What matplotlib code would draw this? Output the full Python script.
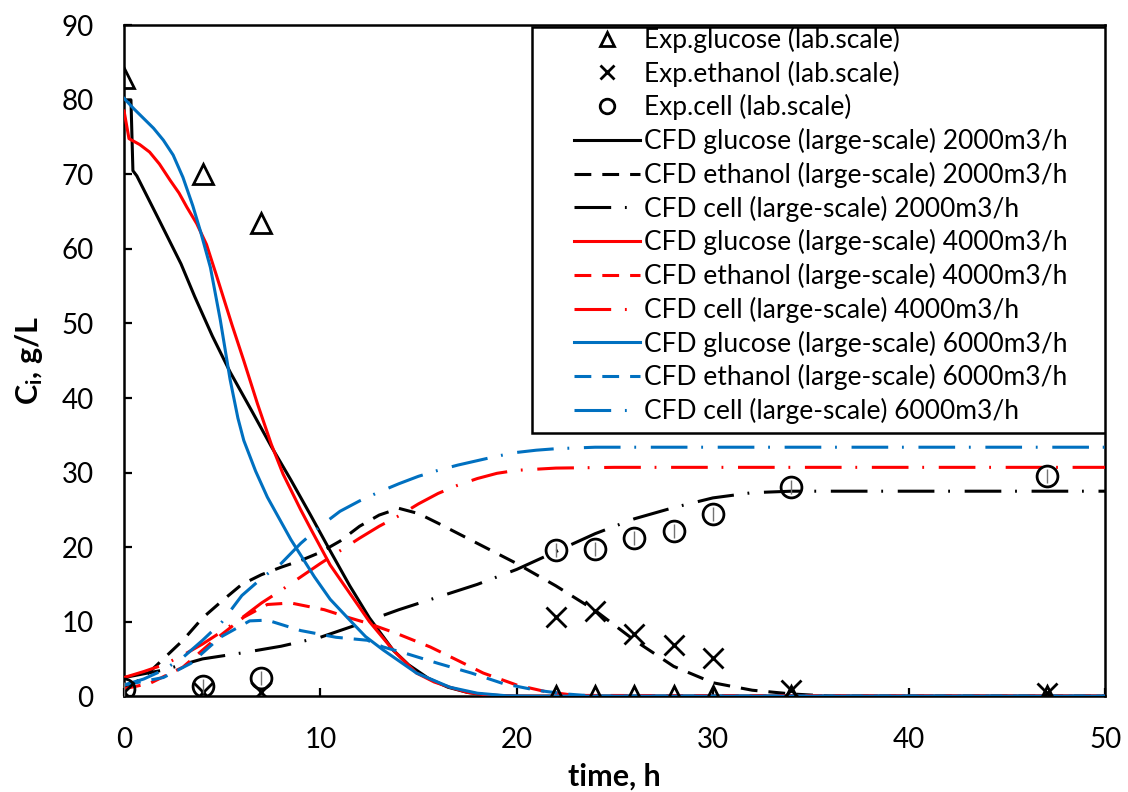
import matplotlib
matplotlib.use("Agg")
import matplotlib.pyplot as plt
from matplotlib.patches import Rectangle

plt.rcParams['font.family'] = ['Lato', 'DejaVu Sans']
plt.rcParams['mathtext.fontset'] = 'custom'
plt.rcParams['mathtext.rm'] = 'Lato'
plt.rcParams['mathtext.bf'] = 'Lato:bold'
plt.rcParams['mathtext.it'] = 'Lato:italic'

# ---------------- data ----------------
exp_t = [0, 4, 7, 22, 24, 26, 28, 30, 34, 47]
exp_glucose = [83, 70, 63.5, 0, 0, 0, 0, 0, 0, 0]
exp_ethanol = [0.5, 0.5, 0.5, 10.6, 11.4, 8.3, 6.8, 5.1, 0.8, 0.4]
exp_cell = [1.0, 1.3, 2.5, 19.6, 19.8, 21.2, 22.1, 24.5, 28.0, 29.5]

g2000_t = [0, 0.35, 0.45, 0.65, 1.8, 2.9, 3.6, 4.5, 5.4, 6.5, 7.5, 8.5, 9.5, 10.5,
           11.5, 12.5, 13.7, 14.5, 15.5, 16.5, 17.5, 18.5, 20, 50]
g2000 = [80, 80, 70.5, 69.8, 63.8, 58, 53.6, 48.3, 43.5, 38.3, 33.5, 29, 24.3, 19.5,
         14.8, 10.5, 6.2, 4.2, 2.4, 1.2, 0.5, 0.15, 0, 0]

g4000_t = [0, 0.25, 0.8, 1.3, 1.8, 2.35, 2.8, 3.2, 3.7, 4.2, 4.7, 5.5, 6.1, 6.8, 7.5,
           8.1, 9.0, 9.6, 10.5, 11.5, 12.5, 13.7, 14.9, 15.8, 16.6, 17.5, 18.5, 20, 50]
g4000 = [78.5, 74.8, 74.0, 73.0, 71.4, 69.2, 67.5, 65.6, 63.4, 60.6, 56.5, 49.8, 45,
         39.2, 33.8, 29.8, 25, 22, 17.6, 13.8, 10, 6.2, 3.1, 1.9, 1.2, 0.5, 0.15, 0, 0]

g6000_t = [0, 0.5, 1.0, 1.5, 2.0, 2.5, 3.0, 3.5, 3.9, 4.4, 4.9, 5.4, 5.8, 6.1, 6.7,
           7.3, 8.5, 9.7, 10.5, 11.5, 12.3, 13.2, 14.9, 16.6, 18, 19.5, 21, 50]
g6000 = [80.2, 78.8, 77.5, 76.2, 74.6, 72.6, 69.6, 65.8, 62.3, 57.5, 50.5, 42.5, 37.3,
         34.3, 30.2, 26.7, 21, 16, 13, 10.2, 8, 6.2, 3.1, 1.2, 0.4, 0.05, 0, 0]

e2000_t = [0, 1, 2, 3, 4, 5, 6, 7, 8, 9, 10, 11, 12, 13, 14, 15, 16, 18, 20, 22, 24,
           26, 28, 30, 32, 34, 36, 50]
e2000 = [1, 2.5, 5, 7.5, 10.5, 12.8, 15, 16.3, 17.3, 18.2, 19.3, 20.8, 22.8, 24.3, 25.2,
         24.5, 23.2, 20.5, 17.8, 14.8, 11.5, 7.5, 4, 1.8, 0.8, 0.3, 0, 0]

e4000_t = [0, 1.3, 3, 4.4, 6.1, 7.3, 8.5, 10.2, 11.5, 12.4, 13.9, 15.6, 17, 18.3,
           20, 21.5, 23, 50]
e4000 = [1, 1.7, 3.9, 7.1, 10.6, 12.3, 12.5, 11.6, 10.5, 9.8, 8.4, 6.6, 4.8, 3.1,
         1.5, 0.6, 0.1, 0]

e6000_t = [0, 2, 3.4, 4.9, 6.4, 7.3, 9, 10.8, 12.4, 13.2, 14.4, 16, 17.7, 19.3, 21,
           22.5, 24, 50]
e6000 = [1.5, 2.5, 4.4, 7.9, 10.1, 10.2, 8.8, 7.9, 7.5, 6.6, 5.7, 4.4, 3.1, 1.7, 0.8,
         0.3, 0, 0]

c2000_t = [0, 2, 4, 6, 8, 10, 12, 14, 16, 18, 20, 22, 24, 26, 28, 30, 32, 34, 50]
c2000 = [2.5, 3.5, 5, 5.8, 6.7, 7.9, 9.7, 11.6, 13.3, 15, 17, 19.4, 21.8, 23.8, 25.3,
         26.6, 27.3, 27.5, 27.5]

c4000_t = [0, 1, 2, 3, 4, 5, 6, 7, 8, 9, 10, 11, 12, 13, 14, 15, 16, 17, 18, 19, 20,
           22, 25, 50]
c4000 = [2.5, 3.3, 4.2, 5.5, 7, 8.7, 10.5, 12.5, 14.2, 16, 17.8, 19.5, 21.2, 22.8,
         24.2, 25.8, 27.2, 28.3, 29.2, 29.9, 30.3, 30.6, 30.7, 30.7]

c6000_t = [0, 1, 2, 3, 4, 5, 6, 7, 8, 9, 10, 11, 12, 13, 14, 15, 16, 17, 18, 19, 20,
           21, 22, 24, 50]
c6000 = [1.5, 2.3, 3.5, 5.2, 7.5, 10, 13.5, 15.8, 17.8, 20.5, 22.8, 24.8, 26.2, 27.4,
         28.5, 29.5, 30.3, 31, 31.6, 32.2, 32.7, 33, 33.2, 33.4, 33.4]

labels = [
    "Exp.glucose (lab.scale)",
    "Exp.ethanol (lab.scale)",
    "Exp.cell (lab.scale)",
    "CFD glucose (large-scale) 2000m3/h",
    "CFD ethanol (large-scale) 2000m3/h",
    "CFD cell (large-scale) 2000m3/h",
    "CFD glucose (large-scale) 4000m3/h",
    "CFD ethanol (large-scale) 4000m3/h",
    "CFD cell (large-scale) 4000m3/h",
    "CFD glucose (large-scale) 6000m3/h",
    "CFD ethanol (large-scale) 6000m3/h",
    "CFD cell (large-scale) 6000m3/h",
]

# ---------------- figure ----------------
fig = plt.figure(figsize=(11.28, 7.92), dpi=100)
ax = fig.add_axes([0.110, 0.121, 0.870, 0.847])

BLACK, RED, BLUE = '#000000', '#FF0000', '#0070C0'
LW = 2.2
dashed = (0, (5.5, 3.6))
dashdot = (0, (12, 4.5, 0.6, 4.8))

handles = []
h1, = ax.plot(exp_t, exp_glucose, linestyle='none', marker='^', ms=15, mfc='none',
              mec='black', mew=2.0, zorder=5)
h2, = ax.plot(exp_t, exp_ethanol, linestyle='none', marker='x', ms=14, mec='black',
              mew=2.0, zorder=5)
h3, = ax.plot(exp_t, exp_cell, linestyle='none', marker='o', ms=15, mfc='none',
              mec='black', mew=2.0, zorder=5)
ax.plot(exp_t, exp_cell, linestyle='none', marker='|', ms=10, mec='0.45', mew=1.0,
        zorder=5)
handles += [h1, h2, h3]

series = [
    (g2000_t, g2000, BLACK, '-'), (e2000_t, e2000, BLACK, dashed), (c2000_t, c2000, BLACK, dashdot),
    (g4000_t, g4000, RED, '-'), (e4000_t, e4000, RED, dashed), (c4000_t, c4000, RED, dashdot),
    (g6000_t, g6000, BLUE, '-'), (e6000_t, e6000, BLUE, dashed), (c6000_t, c6000, BLUE, dashdot),
]
for t, v, c, ls in series:
    h, = ax.plot(t, v, color=c, linestyle=ls, lw=LW, dash_capstyle='butt', zorder=3)
    handles.append(h)

ax.set_xlim(0, 50)
ax.set_ylim(0, 90)
ax.set_xticks([0, 10, 20, 30, 40, 50])
ax.set_yticks(range(0, 91, 10))
ax.tick_params(direction='in', length=6, width=1.6, labelsize=20, pad=22,
               colors='black')
ax.tick_params(axis='x', pad=22)
for s in ax.spines.values():
    s.set_linewidth(1.8)
    s.set_color('black')

ax.set_xlabel('time, h', fontsize=22, fontweight='bold', labelpad=7)
ax.set_ylabel(r'C$_\mathbf{i}$, g/L', fontsize=22, fontweight='bold', labelpad=12)

# legend frame
ax.add_patch(Rectangle((0.416, 0.393), 0.584, 0.604, transform=ax.transAxes,
                       facecolor='white', edgecolor='black', lw=1.8, zorder=6))
leg = ax.legend(handles, labels, loc='upper left', bbox_to_anchor=(0.4587, 0.998),
                frameon=False, fontsize=19, handlelength=2.5, handletextpad=0.15,
                labelspacing=0.29, borderaxespad=0.0, borderpad=0.0,
                markerscale=0.7)
leg.set_zorder(7)

fig.savefig('out.png', dpi=100)
